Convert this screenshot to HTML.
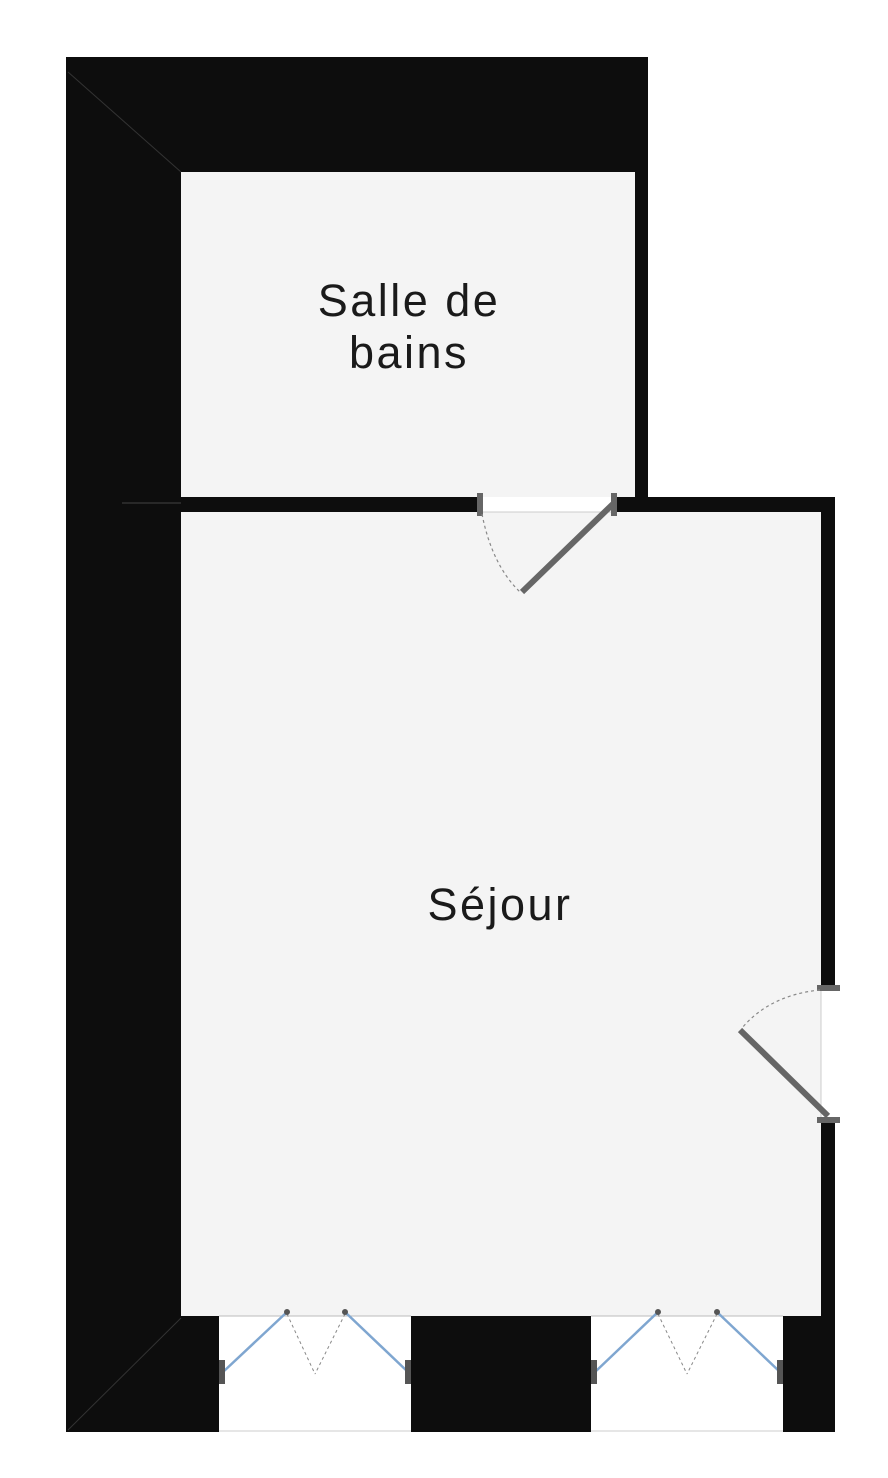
<!DOCTYPE html>
<html><head><meta charset="utf-8"><style>
html,body{margin:0;padding:0;background:#fff}
svg{display:block}
text{font-family:"Liberation Sans",sans-serif;fill:#1a1a1a}
</style></head><body>
<svg width="888" height="1478" viewBox="0 0 888 1478" xmlns="http://www.w3.org/2000/svg">
<rect x="0" y="0" width="888" height="1478" fill="#fff"/>
<rect x="66" y="57" width="582" height="455" fill="#0d0d0d"/>
<rect x="66" y="57" width="115" height="1375" fill="#0d0d0d"/>
<rect x="181" y="497" width="654" height="935" fill="#0d0d0d"/>
<rect x="181" y="172" width="454" height="325" fill="#f4f4f4"/>
<rect x="181" y="512" width="640" height="804" fill="#f4f4f4"/>
<line x1="68" y1="72" x2="181" y2="172" stroke="#333" stroke-width="1"/>
<line x1="181" y1="1318" x2="68" y2="1430" stroke="#333" stroke-width="1"/>
<line x1="122" y1="503" x2="181" y2="503" stroke="#444" stroke-width="1"/>
<rect x="219" y="1316" width="192" height="116" fill="#fff"/>
<rect x="591" y="1316" width="192" height="116" fill="#fff"/>
<line x1="219" y1="1431" x2="411" y2="1431" stroke="#ccc"/>
<line x1="591" y1="1431" x2="783" y2="1431" stroke="#ccc"/>
<line x1="219" y1="1316" x2="411" y2="1316" stroke="#bbb"/>
<line x1="591" y1="1316" x2="783" y2="1316" stroke="#bbb"/>
<rect x="480" y="497" width="134" height="15" fill="#fff"/>
<line x1="480" y1="512" x2="614" y2="512" stroke="#ccc"/>
<rect x="477" y="493" width="6" height="23" fill="#666"/>
<rect x="611" y="493" width="6" height="23" fill="#666"/>
<line x1="614" y1="503" x2="522" y2="592" stroke="#666" stroke-width="6"/>
<path d="M482 514 Q492 565 520 592" fill="none" stroke="#888" stroke-width="1.2" stroke-dasharray="3,3"/>
<rect x="821" y="988" width="14" height="132" fill="#fff"/>
<line x1="821" y1="988" x2="821" y2="1120" stroke="#ccc"/>
<rect x="817" y="985" width="23" height="6" fill="#666"/>
<rect x="817" y="1117" width="23" height="6" fill="#666"/>
<line x1="828" y1="1116" x2="740" y2="1030" stroke="#666" stroke-width="6"/>
<path d="M820 990 Q770 995 742 1028" fill="none" stroke="#888" stroke-width="1.2" stroke-dasharray="3,3"/>
<g stroke="#7fa6d0" stroke-width="2.5">
<line x1="223" y1="1372" x2="287" y2="1312"/>
<line x1="345" y1="1312" x2="408" y2="1372"/>
<line x1="595" y1="1372" x2="658" y2="1312"/>
<line x1="717" y1="1312" x2="780" y2="1372"/>
</g>
<g stroke="#888" stroke-width="1" stroke-dasharray="3,3" fill="none">
<line x1="287" y1="1314" x2="315" y2="1374"/>
<line x1="345" y1="1314" x2="315" y2="1374"/>
<line x1="658" y1="1314" x2="687" y2="1374"/>
<line x1="717" y1="1314" x2="687" y2="1374"/>
</g>
<g fill="#555">
<rect x="219" y="1360" width="6" height="24"/>
<rect x="405" y="1360" width="6" height="24"/>
<rect x="591" y="1360" width="6" height="24"/>
<rect x="777" y="1360" width="6" height="24"/>
<circle cx="287" cy="1312" r="3"/><circle cx="345" cy="1312" r="3"/>
<circle cx="658" cy="1312" r="3"/><circle cx="717" cy="1312" r="3"/>
</g>
<text x="409" y="316" font-size="45" text-anchor="middle" letter-spacing="2.5">Salle de</text>
<text x="409" y="368" font-size="45" text-anchor="middle" letter-spacing="2.5">bains</text>
<text x="500" y="920" font-size="45" text-anchor="middle" letter-spacing="2.5">Séjour</text>
</svg>
</body></html>
